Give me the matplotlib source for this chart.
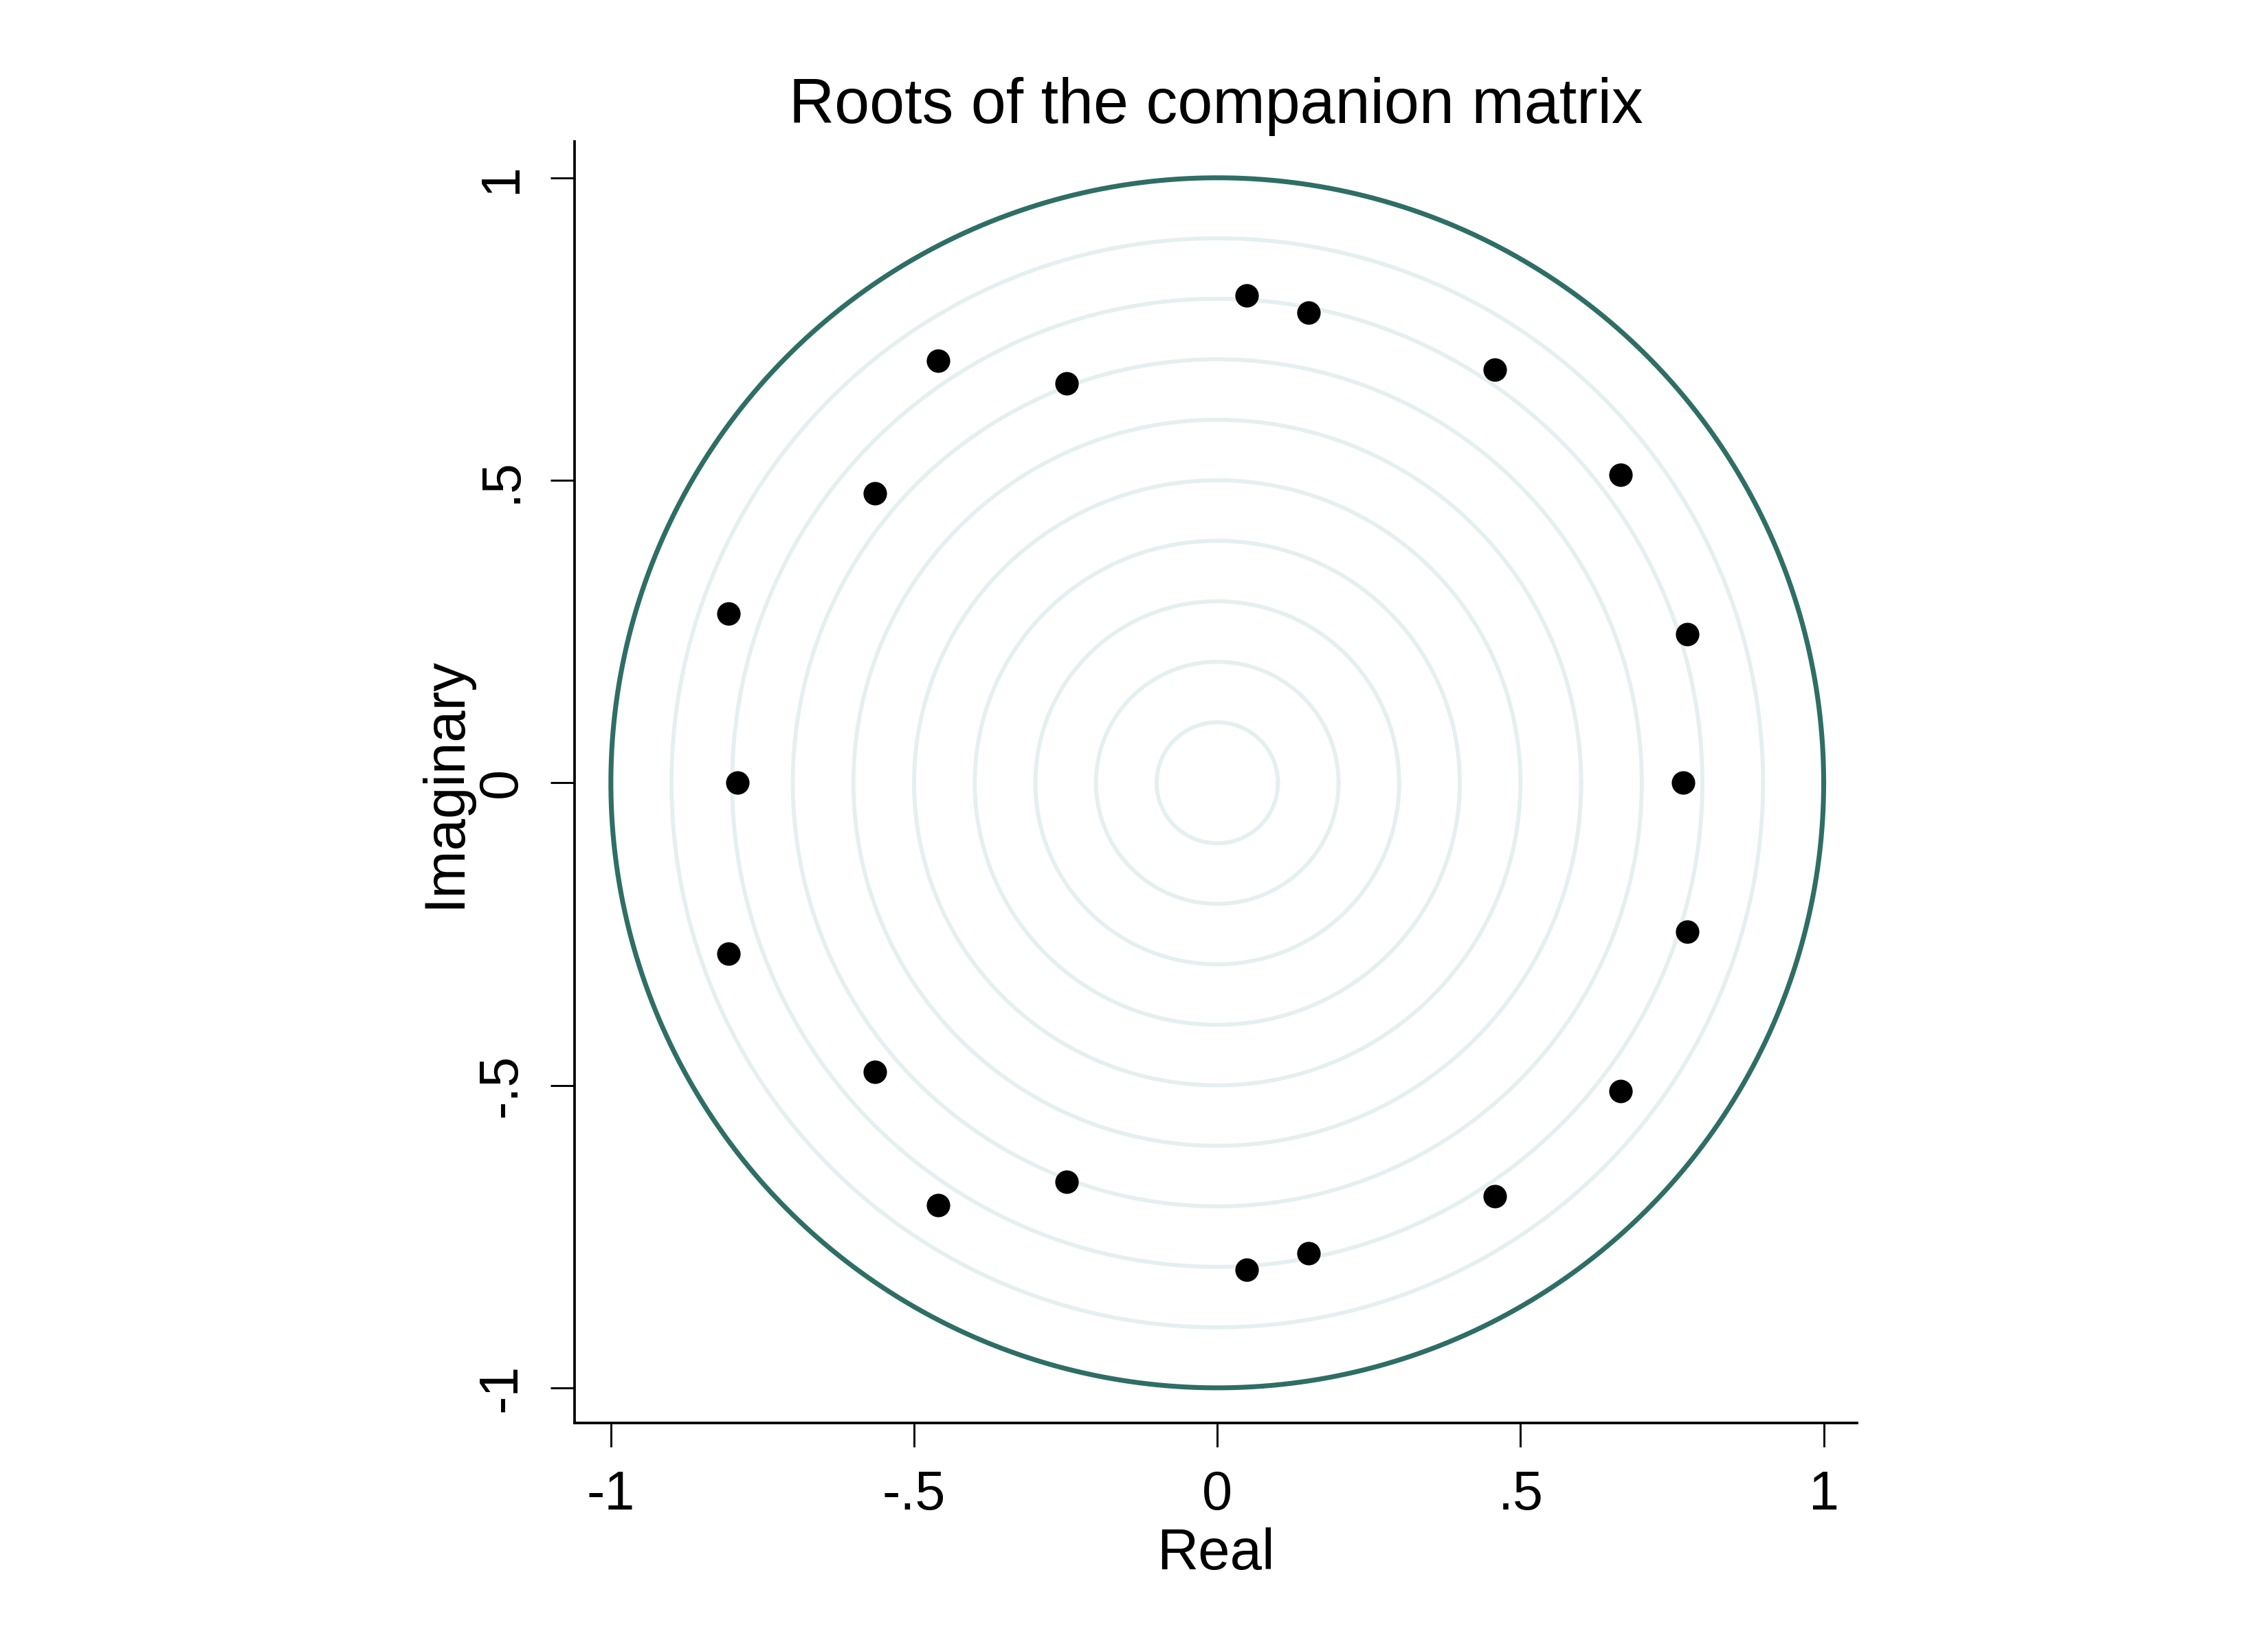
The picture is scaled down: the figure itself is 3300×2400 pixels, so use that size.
import matplotlib.pyplot as plt
import numpy as np

plt.rcParams['font.family'] = ['Liberation Sans', 'DejaVu Sans']

# roots (conjugate pairs)
re = [0.048, 0.150, 0.458, 0.665, 0.775, 0.768, 0.775, 0.665, 0.458, 0.150,
      0.048, -0.248, -0.460, -0.565, -0.806, -0.791, -0.806, -0.565, -0.460, -0.248]
im = [0.805, 0.777, 0.683, 0.509, 0.246, 0.0, -0.246, -0.509, -0.683, -0.777,
      -0.805, -0.660, -0.698, -0.478, -0.282, 0.0, 0.280, 0.478, 0.698, 0.660]

grid_radii = [0.1, 0.2, 0.3, 0.4, 0.5, 0.6, 0.7, 0.8, 0.9]
ticks = [-1, -0.5, 0, 0.5, 1]
tick_labels = ['-1', '-.5', '0', '.5', '1']

fig = plt.figure(figsize=(11, 8), dpi=300)
ax = fig.add_axes([0.2533, 0.1371, 0.5655, 0.7771])

th = np.linspace(0, 2 * np.pi, 400)
for r in grid_radii:
    ax.plot(r * np.cos(th), r * np.sin(th), color='#e6eff0', lw=1.4, zorder=1)
ax.plot(np.cos(th), np.sin(th), color='#2e6e65', lw=1.7, zorder=2)

ax.plot(re, im, 'o', color='black', ms=7.2, zorder=3)

ax.set_xlim(-1.06, 1.055)
ax.set_ylim(-1.058, 1.06)

ax.spines['top'].set_visible(False)
ax.spines['right'].set_visible(False)
for s in ['left', 'bottom']:
    ax.spines[s].set_linewidth(0.9)

ax.set_xticks(ticks)
ax.set_xticklabels(tick_labels)
ax.set_yticks(ticks)
ax.set_yticklabels(tick_labels, rotation=90, va='center')
ax.tick_params(length=8.4, width=0.7, labelsize=19, pad=8)

ax.set_xlabel('Real', fontsize=20, labelpad=2)
ax.set_ylabel('Imaginary', fontsize=20, labelpad=1.5)
ax.set_title('Roots of the companion matrix', fontsize=22, pad=6.5)

fig.savefig('out.png', dpi=300, facecolor='white')
